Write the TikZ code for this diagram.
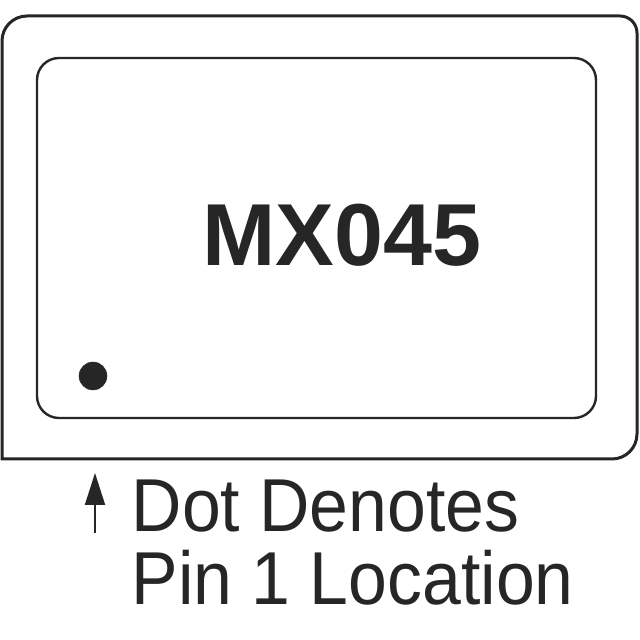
\documentclass[tikz,border=0pt]{standalone}
\usepackage{fontspec}
\setmainfont{Liberation Sans}
\usetikzlibrary{arrows.meta}

\begin{document}
\begin{tikzpicture}[x=1pt,y=1pt]
\tikzstyle{case}=[black!85, line width=3pt]
\tikzstyle{lid}=[black!85, line width=2.4pt, rounded corners=22pt]
\tikzstyle{note}=[inner sep=0pt, anchor=base west, black!85, font=\fontsize{75}{75}\selectfont]
\useasboundingbox (0,0) rectangle (640,640);
% outer package outline, bottom left corner square
\draw[case] (2,181) -- (2,599) arc[start angle=180, end angle=90, radius=25]
  -- (620,624) arc[start angle=90, end angle=0, radius=17]
  -- (637,206) arc[start angle=0, end angle=-90, radius=25] -- cycle;
\draw[lid] (37,222) rectangle (596,582); %inner lid
\filldraw[black!85] (93,264) circle (14pt) coordinate (pinone);
\node[inner sep=0pt, anchor=base, black!85, font=\fontsize{88}{88}\selectfont\bfseries] (part) at (342,374) {MX045};
\coordinate (arrowtail) at (95,107);
\coordinate (arrowtip) at (95,167);
\draw[black!85, line width=2pt, -{Triangle[length=32pt, width=20pt]}] (arrowtail) -- (arrowtip);
\node[note] (lineone) at (131.5,108) {\scalebox{0.93}[1]{Dot Denotes}};
\node[note] (linetwo) at (131.5,35) {\scalebox{0.93}[1]{Pin 1 Location}};
\end{tikzpicture}
\end{document}
